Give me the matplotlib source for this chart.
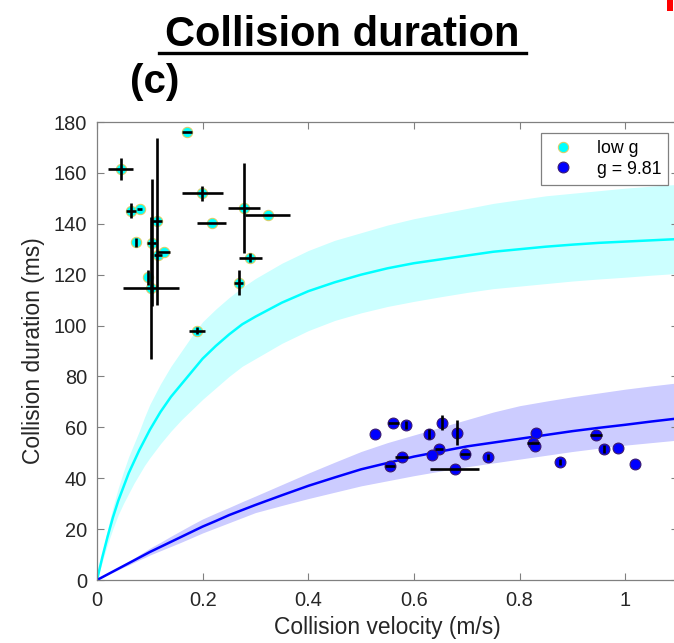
import matplotlib
matplotlib.use('Agg')
import matplotlib.pyplot as plt
from matplotlib.lines import Line2D
from matplotlib.patches import Rectangle

plt.rcParams['font.family'] = ['Liberation Sans', 'DejaVu Sans']

# fitted curves + confidence bands
curve_v = [0, 0.01, 0.02, 0.03, 0.04, 0.05, 0.06, 0.07, 0.08, 0.09, 0.1, 0.12, 0.14, 0.16,
           0.18, 0.2, 0.225, 0.25, 0.275, 0.3, 0.35, 0.4, 0.45, 0.5, 0.55, 0.6, 0.65, 0.7,
           0.75, 0.8, 0.85, 0.9, 0.95, 1.0, 1.05, 1.1]
lowg_fit = [0, 8.9, 17, 24.5, 31, 36.5, 42, 46.5, 51, 55, 59, 66, 72, 77,
            82, 87, 92, 96.5, 100.5, 103.5, 109, 113.5, 117, 120, 122.5, 124.5, 126, 127.5,
            129, 130, 131, 131.8, 132.5, 133, 133.5, 134]
lowg_hi = [0, 10.5, 20, 28.5, 36, 42.5, 48.5, 53.5, 58.5, 64, 69, 77, 84, 90,
           96, 101.5, 106.5, 111, 115, 118.5, 124.5, 129.5, 133.5, 136.5, 139.5, 142, 144, 146,
           148, 149.5, 151, 152, 153, 154, 154.8, 155.5]
lowg_lo = [0, 7.2, 14, 20, 25.5, 30, 34, 38, 41.5, 45, 48, 53.5, 58.5, 63,
           67, 71, 75.5, 80, 84, 87, 93, 98, 102, 105, 107.5, 109.5, 111.3, 113,
           114.5, 115.5, 116.5, 117.5, 118.3, 119, 119.8, 120.5]
earth_fit = [0, 1.1, 2.2, 3.3, 4.4, 5.5, 6.6, 7.7, 8.8, 9.9, 11, 13, 15, 17,
             19, 21, 23.2, 25.5, 27.5, 29.5, 33.3, 37, 40.3, 43.5, 46, 48.5, 50.5, 52.5,
             54, 55.5, 57, 58.5, 59.8, 61, 62.3, 63.5]
earth_hi = [0, 1.25, 2.5, 3.7, 4.9, 6, 7.3, 8.6, 9.9, 11.2, 12.5, 14.8, 17.2, 19.5,
            21.8, 24, 26.3, 28.5, 30.8, 33, 37.5, 42, 46.3, 50.5, 54, 57, 60, 63,
            66, 68.5, 70.3, 72, 73.5, 75, 76.3, 77.5]
earth_lo = [0, 1, 2, 3, 4, 5, 5.9, 6.9, 7.9, 8.8, 9.8, 11.5, 13.2, 14.9,
            16.7, 18.5, 20.5, 22.5, 24.5, 26.5, 29.3, 32, 34.5, 37, 39, 41, 42.8, 44.5,
            46, 47.5, 49, 50.5, 51.8, 53, 54, 55]

# low g measurements
lowg_v = [0.045, 0.064, 0.081, 0.073, 0.171, 0.199, 0.217, 0.278, 0.323, 0.290,
          0.268, 0.190, 0.114, 0.104, 0.116, 0.126, 0.096, 0.102]
lowg_t = [161.6, 145.2, 145.7, 132.7, 176.1, 152.0, 140.5, 146.1, 143.3, 126.7,
          116.9, 98.0, 140.9, 132.6, 127.7, 129.0, 119.0, 114.7]
lowg_verr = [0.024, 0.0095, 0.005, 0, 0.0095, 0.039, 0.028, 0.030, 0.043, 0.022,
             0.009, 0.015, 0.0095, 0.0085, 0.008, 0.0126, 0, 0.053]
lowg_terr = [4.3, 2.8, 0, 1.8, 0, 2.9, 0, 17.6, 0, 1.8,
             4.9, 1.3, 32.8, 25.0, 0, 0, 3.0, 27.8]

# g = 9.81 measurements
earth_v = [0.527, 0.561, 0.585, 0.554, 0.577, 0.629, 0.653, 0.681, 0.648, 0.635, 0.697,
           0.677, 0.741, 0.831, 0.826, 0.830, 0.877, 0.945, 0.959, 0.986, 1.019]
earth_t = [57.3, 61.8, 60.9, 44.8, 48.5, 57.3, 61.8, 57.9, 51.4, 49.1, 49.5,
           43.5, 48.5, 57.7, 54.0, 52.7, 46.3, 57.0, 51.4, 51.8, 45.6]
earth_verr = [0, 0.0104, 0, 0.0095, 0.0126, 0, 0, 0, 0.008, 0, 0.0095,
              0.046, 0, 0, 0.011, 0, 0, 0.011, 0, 0, 0]
earth_terr = [0, 0, 1.5, 0, 0, 2.0, 2.9, 5.0, 0, 0, 0,
              0, 1.2, 0, 0, 0, 1.2, 0, 1.5, 0, 0]

fig = plt.figure(figsize=(6.74, 6.43), dpi=100)
ax = fig.add_axes([97/674, 63/643, 581/674, 458/643])

ax.fill_between(curve_v, lowg_lo, lowg_hi, color='#ccffff', lw=0, zorder=1)
ax.fill_between(curve_v, earth_lo, earth_hi, color='#ccccff', lw=0, zorder=1)
ax.plot(curve_v, lowg_fit, color='#00ffff', lw=1.8, zorder=2)
ax.plot(curve_v, earth_fit, color='#0000ff', lw=1.8, zorder=2)

p1, = ax.plot(lowg_v, lowg_t, 'o', ms=7.4, mfc='#00ffff', mec='#d8cf6a', mew=0.8,
              zorder=3, label='low g')
p2, = ax.plot(earth_v, earth_t, 'o', ms=7.8, mfc='#0000ff', mec='#3a1a70', mew=0.8,
              zorder=3, label='g = 9.81')
ax.errorbar(lowg_v, lowg_t, xerr=lowg_verr, yerr=lowg_terr, fmt='none',
            ecolor='black', elinewidth=1.9, capsize=0, zorder=4)
ax.errorbar(earth_v, earth_t, xerr=earth_verr, yerr=earth_terr, fmt='none',
            ecolor='black', elinewidth=1.9, capsize=0, zorder=4)

ax.set_xlim(0, 1.1)
ax.set_ylim(0, 180)
ax.set_xticks([0, 0.2, 0.4, 0.6, 0.8, 1.0])
ax.set_xticklabels(['0', '0.2', '0.4', '0.6', '0.8', '1'])
ax.set_yticks(range(0, 181, 20))
ax.tick_params(direction='in', top=True, right=True, length=5, width=0.8,
               colors='#808080', labelcolor='#262626', labelsize=14.4)
ax.tick_params(axis='x', pad=8)
ax.tick_params(axis='y', pad=7)
for s in ax.spines.values():
    s.set_color('#808080')
    s.set_linewidth(0.9)
ax.set_xlabel('Collision velocity (m/s)', fontsize=16.4, color='#262626', labelpad=4)
ax.set_ylabel('Collision duration (ms)', fontsize=16.4, color='#262626', labelpad=6)

leg = ax.legend(handles=[p1, p2], loc='upper right', bbox_to_anchor=(0.983, 0.976),
                borderaxespad=0, fontsize=12.8, fancybox=False, edgecolor='#808080',
                framealpha=1, handlelength=1.6, handletextpad=1.1, borderpad=0.4,
                labelspacing=0.2)
leg.get_frame().set_linewidth(0.9)

# title with underline and panel letter
fig.text(342/674, 1 - 46/643, 'Collision duration', fontsize=30, fontweight='bold',
         ha='center', va='baseline')
fig.add_artist(Line2D([159/674, 526/674], [1 - 53/643, 1 - 53/643], color='black', lw=2.4))
fig.text(155/674, 1 - 82/643, '(c)', fontsize=29, fontweight='bold', ha='center', va='center')
fig.add_artist(Rectangle((667/674, 1 - 11/643), 6/674, 11/643, color='red', lw=0))

fig.savefig('out.png', dpi=100)
